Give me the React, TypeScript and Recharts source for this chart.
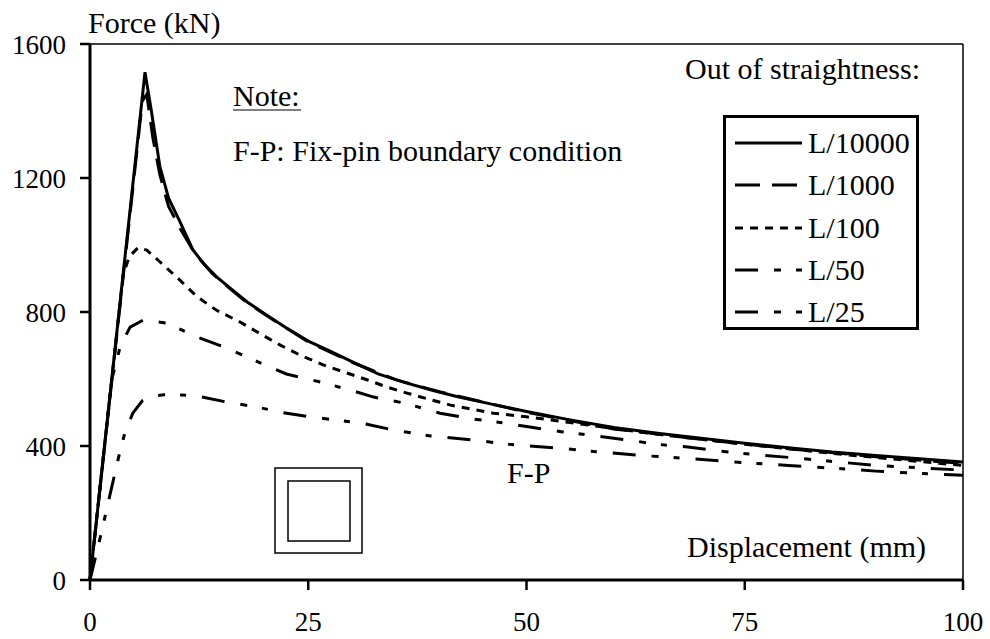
import React from "react";
import {
  LineChart,
  Line,
  XAxis,
  YAxis,
  Legend,
  ReferenceLine,
  Customized,
} from "recharts";

const serif = "Liberation Serif, serif";

// displacement (mm) / force (kN) per out-of-straightness case
const dispL10000 = [0, 6.3, 7, 8, 9, 10.3, 11.8, 13, 14.5, 16.2, 18, 20, 22.5, 25, 27.5, 30, 33, 36, 39, 42, 46, 50, 55, 60, 65, 70, 75, 80, 85, 90, 95, 100];
const forceL10000 = [0, 1516, 1405, 1235, 1140, 1070, 985, 945, 905, 868, 830, 795, 752, 713, 683, 652, 615, 590, 568, 548, 525, 503, 478, 455, 438, 423, 408, 395, 382, 372, 362, 352];

const dispL1000 = [0, 6.0, 6.5, 7.2, 8, 9, 10.3, 12, 14, 16.2, 18, 20, 25, 30, 35, 40, 50, 60, 70, 80, 90, 100];
const forceL1000 = [0, 1430, 1450, 1320, 1210, 1115, 1050, 975, 915, 866, 828, 793, 711, 650, 598, 562, 501, 451, 420, 392, 368, 348];

const dispL100 = [0, 3.8, 4.5, 5.5, 6.5, 8, 10.3, 12.3, 14.5, 17.2, 19.5, 21.8, 24, 26.7, 31.8, 34, 36.3, 39.2, 41.3, 46.2, 50, 55, 60, 65, 70, 75, 80, 85, 90, 95, 100];
const forceL100 = [0, 912, 965, 992, 985, 950, 895, 845, 805, 770, 735, 701, 672, 642, 597, 576, 558, 537, 522, 498, 487, 470, 452, 435, 420, 405, 392, 378, 366, 354, 342];

const dispL50 = [0, 2.5, 3.5, 4.6, 6.1, 8.8, 12.3, 15.7, 19.5, 22.5, 26.4, 29.8, 32.5, 36, 40.1, 43.5, 47.4, 50, 54.2, 58, 61.6, 65, 68.5, 72, 76, 80, 85, 90, 95, 100];
const forceL50 = [0, 600, 700, 755, 776, 767, 725, 692, 648, 615, 591, 567, 546, 528, 498, 482, 469, 458, 442, 430, 418, 405, 397, 385, 375, 366, 354, 342, 335, 328];

const dispL25 = [0, 1.2, 2.6, 3.4, 4, 4.9, 6, 7, 8.5, 10.5, 12.3, 15.7, 19.2, 22, 25.2, 28, 31, 34.7, 39, 43.9, 48, 53.6, 58, 63, 69, 75, 80, 85, 90, 95, 100];
const forceL25 = [0, 130, 290, 380, 440, 498, 535, 548, 553, 552, 549, 531, 516, 500, 487, 478, 469, 448, 430, 418, 405, 394, 383, 372, 362, 350, 342, 334, 325, 318, 313];

const xTicks = [0, 25, 50, 75, 100];
const yTicks = [0, 400, 800, 1200, 1600];

const toPoints = (xs: number[], ys: number[]) => xs.map((x, i) => ({ x, y: ys[i] }));

const series = [
  { name: "L/10000", data: toPoints(dispL10000, forceL10000), dash: undefined },
  { name: "L/1000", data: toPoints(dispL1000, forceL1000), dash: "25 12" },
  { name: "L/100", data: toPoints(dispL100, forceL100), dash: "8 7" },
  { name: "L/50", data: toPoints(dispL50, forceL50), dash: "23 16 7 15 6 16" },
  { name: "L/25", data: toPoints(dispL25, forceL25), dash: "23 16 7 15 6 16" },
];

function LegendBox() {
  return (
    <div
      style={{
        width: 190,
        height: 205,
        border: "3px solid #000",
        background: "#fff",
        fontFamily: serif,
        fontSize: 30,
        color: "#000",
        paddingTop: 4,
        boxSizing: "content-box",
        overflow: "hidden",
      }}
    >
      {series.map((s) => (
        <div key={s.name} style={{ display: "flex", alignItems: "center", height: 42.3 }}>
          <svg width={80} height={10} style={{ marginLeft: 9, flexShrink: 0 }}>
            <line x1={0} y1={5} x2={67} y2={5} stroke="#000" strokeWidth={3} strokeDasharray={s.dash} />
          </svg>
          <span style={{ marginLeft: -7, lineHeight: 1 }}>{s.name}</span>
        </div>
      ))}
    </div>
  );
}

function Annotations() {
  const t = { fontFamily: serif, fontSize: 30, fill: "#000" };
  return (
    <g>
      <text x={88} y={33} {...t}>Force (kN)</text>
      <text x={685} y={79} {...t}>Out of straightness:</text>
      <text x={233} y={106} {...t}>Note:</text>
      <line x1={233} y1={110} x2={301} y2={110} stroke="#000" strokeWidth={1.2} />
      <text x={233} y={161} {...t}>F-P: Fix-pin boundary condition</text>
      <text x={507} y={483} {...t}>F-P</text>
      <text x={687} y={557} {...t}>Displacement (mm)</text>
      <rect x={275} y={468} width={87} height={85} fill="none" stroke="#000" strokeWidth={1.5} />
      <rect x={288} y={481} width={62} height={60} fill="none" stroke="#000" strokeWidth={1.5} />
    </g>
  );
}

export default function App() {
  return (
    <div style={{ position: "absolute", left: 0, top: 0, background: "#fff" }}>
      <LineChart width={990} height={639} margin={{ top: 44, right: 27, left: 0, bottom: 0 }}>
        <XAxis
          type="number"
          dataKey="x"
          domain={[0, 100]}
          ticks={xTicks}
          height={59}
          tickSize={10}
          tickMargin={22}
          axisLine={{ stroke: "#000", strokeWidth: 3 }}
          tickLine={{ stroke: "#000", strokeWidth: 2.5 }}
          tick={{ fontFamily: serif, fontSize: 27, fill: "#000" }}
          allowDuplicatedCategory={false}
        />
        <YAxis
          type="number"
          domain={[0, 1600]}
          ticks={yTicks}
          width={90}
          tickSize={10}
          tickMargin={14}
          axisLine={{ stroke: "#000", strokeWidth: 3 }}
          tickLine={{ stroke: "#000", strokeWidth: 2.5 }}
          tick={{ fontFamily: serif, fontSize: 27, fill: "#000" }}
        />
        <ReferenceLine y={1600} stroke="#000" strokeWidth={1.5} />
        <ReferenceLine x={100} stroke="#000" strokeWidth={1.5} />
        {series.map((s) => (
          <Line
            key={s.name}
            data={s.data}
            dataKey="y"
            name={s.name}
            type="linear"
            stroke="#000"
            strokeWidth={3}
            strokeDasharray={s.dash}
            dot={false}
            activeDot={false}
            isAnimationActive={false}
          />
        ))}
        <Legend
          layout="vertical"
          align="center"
          verticalAlign="middle"
          content={() => <LegendBox />}
          wrapperStyle={{ left: 723, top: 115, width: "auto" }}
        />
        <Customized component={Annotations} />
      </LineChart>
    </div>
  );
}
